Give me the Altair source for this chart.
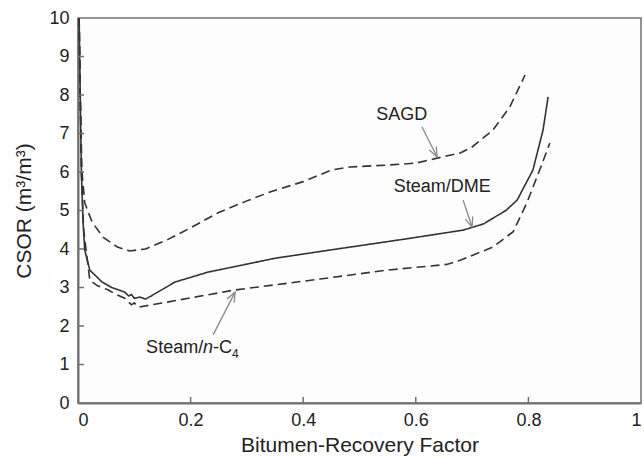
import altair as alt
import pandas as pd
import math

# ---- data ----
sagd_x = [0.002, 0.004, 0.007, 0.012, 0.025, 0.045, 0.07, 0.092, 0.12, 0.16, 0.2, 0.25, 0.3,
          0.341, 0.4, 0.45, 0.483, 0.55, 0.6, 0.638, 0.68, 0.70, 0.737, 0.767, 0.794]
sagd_y = [10.0, 8.0, 6.0, 5.2, 4.7, 4.3, 4.05, 3.95, 4.0, 4.25, 4.55, 4.95, 5.25,
          5.48, 5.75, 6.05, 6.13, 6.18, 6.23, 6.36, 6.5, 6.65, 7.09, 7.69, 8.52]

dme_x = [0.002, 0.004, 0.006, 0.009, 0.012, 0.021, 0.043, 0.06, 0.083, 0.09, 0.095, 0.10, 0.11,
         0.12, 0.13, 0.172, 0.231, 0.291, 0.35, 0.46, 0.577, 0.684, 0.72, 0.76, 0.78, 0.808,
         0.826, 0.835]
dme_y = [10.0, 8.0, 6.0, 4.7, 3.97, 3.45, 3.14, 3.0, 2.88, 2.78, 2.82, 2.72, 2.75,
         2.7, 2.78, 3.14, 3.40, 3.58, 3.76, 4.0, 4.25, 4.49, 4.65, 5.0, 5.27, 6.05,
         7.09, 7.95]

nc4_x = [0.002, 0.004, 0.006, 0.01, 0.021, 0.034, 0.053, 0.069, 0.083, 0.095, 0.1, 0.107,
         0.158, 0.276, 0.43, 0.548, 0.655, 0.679, 0.737, 0.773, 0.797, 0.82, 0.838]
nc4_y = [10.0, 8.0, 6.0, 4.5, 3.19, 3.05, 2.94, 2.81, 2.72, 2.55, 2.6, 2.49,
         2.62, 2.93, 3.22, 3.45, 3.6, 3.71, 4.05, 4.45, 5.19, 6.05, 6.75]

series_names = ["SAGD", "Steam/DME", "Steam/n-C4"]

x_ticks = [0, 0.2, 0.4, 0.6, 0.8, 1]
y_ticks = [0, 1, 2, 3, 4, 5, 6, 7, 8, 9, 10]
x_inner_ticks = [0.2, 0.4, 0.6, 0.8]
y_inner_ticks = [1, 2, 3, 4, 5, 6, 7, 8, 9]

# annotations: label position, arrow start, arrow tip
ann_labels = ["SAGD", "Steam/DME"]
ann_label_x = [0.575, 0.647]
ann_label_y = [7.48, 5.61]

arrow_x0 = [0.611, 0.684, 0.24]
arrow_y0 = [7.17, 5.27, 1.77]
arrow_x1 = [0.638, 0.70, 0.279]
arrow_y1 = [6.39, 4.57, 2.88]

nc4_label_x = [0.121]
nc4_label_y = [1.30]

# ---- tables ----
rows = []
for name, xs_, ys_ in zip(series_names, [sagd_x, dme_x, nc4_x], [sagd_y, dme_y, nc4_y]):
    for a, b in zip(xs_, ys_):
        rows.append({"series": name, "rf": a, "csor": b})
df = pd.DataFrame(rows)

W, H = 563, 385
angs = []
for a0, b0, a1, b1 in zip(arrow_x0, arrow_y0, arrow_x1, arrow_y1):
    dx = (a1 - a0) * W
    dy = -(b1 - b0) * H / 10.0
    n = math.hypot(dx, dy)
    ux, uy = dx / n, dy / n
    angs.append(math.degrees(math.atan2(-ux, uy)) % 360)
arrows = pd.DataFrame({"x0": arrow_x0, "y0": arrow_y0, "x1": arrow_x1, "y1": arrow_y1, "ang": angs})
labels = pd.DataFrame({"t": ann_labels, "x": ann_label_x, "y": ann_label_y})
nc4lab = pd.DataFrame({"x": nc4_label_x, "y": nc4_label_y})

xs = alt.Scale(domain=[0, 1], nice=False, zero=False)
ys = alt.Scale(domain=[0, 10], nice=False, zero=False)
ax_x = alt.Axis(values=x_ticks, format="~g", title="Bitumen-Recovery Factor")
ax_y = alt.Axis(values=y_ticks, format="d", title="CSOR (m³/m³)")

FONT = "Liberation Sans"
TXT = "#222222"

def X(f):
    return alt.X(f, scale=xs, axis=ax_x)

def Y(f):
    return alt.Y(f, scale=ys, axis=ax_y)

lines = alt.Chart(df).mark_line(strokeWidth=1.6, color="#333333").encode(
    x=X("rf:Q"), y=Y("csor:Q"),
    strokeDash=alt.StrokeDash("series:N", scale=alt.Scale(domain=series_names,
                              range=[[9, 5], [1, 0], [9, 5]]), legend=None),
    detail="series:N",
)

xt = alt.Chart(pd.DataFrame({"v": x_inner_ticks})).mark_rule(color="#707070", strokeWidth=1.5).encode(
    x=X("v:Q"), y=alt.value(H), y2=alt.value(H - 6))
yt = alt.Chart(pd.DataFrame({"v": y_inner_ticks})).mark_rule(color="#707070", strokeWidth=1.5).encode(
    y=Y("v:Q"), x=alt.value(0), x2=alt.value(6))

arrow_lines = alt.Chart(arrows).mark_rule(color="#888888", strokeWidth=1.3).encode(
    x=X("x0:Q"), y=Y("y0:Q"), x2="x1:Q", y2="y1:Q")
arrow_heads = alt.Chart(arrows).mark_point(
    shape="M -0.4 -1 L 0 0 L 0.4 -1", filled=False, size=380, strokeWidth=1.3, color="#888888", opacity=1
).encode(x=X("x1:Q"), y=Y("y1:Q"), angle=alt.Angle("ang:Q", scale=None))

lab = alt.Chart(labels).mark_text(font=FONT, fontSize=18, color=TXT, align="center", baseline="middle").encode(
    x=X("x:Q"), y=Y("y:Q"), text="t:N")

def piece(text, dx, dy=0, size=18, style="normal"):
    return alt.Chart(nc4lab).mark_text(font=FONT, fontSize=size, color=TXT, align="left",
                                       baseline="alphabetic", dx=dx, dy=dy, fontStyle=style,
                                       text=text).encode(x=X("x:Q"), y=Y("y:Q"))

nlab = [piece("Steam/", 0), piece("n", 57, style="italic"), piece("-C", 67), piece("4", 86, dy=5, size=12)]

chart = alt.layer(lines, xt, yt, arrow_lines, arrow_heads, lab, *nlab).properties(
    width=W, height=H,
    autosize=alt.AutoSizeParams(type="none"),
    padding={"left": 78, "top": 18, "right": 3, "bottom": 56},
    background="white",
).configure_view(
    stroke="#707070", strokeWidth=1.5, fill="#fdfdfd"
).configure_axis(
    domainColor="#707070", domainWidth=2, ticks=False, grid=False,
    labelFont=FONT, labelFontSize=18, labelColor=TXT,
    titleFont=FONT, titleFontSize=21, titleColor=TXT, titleFontWeight="normal",
).configure_axisX(labelPadding=8, titlePadding=5).configure_axisY(labelPadding=9, titlePadding=14)

chart.save("out.html", embed_options={"renderer": "svg", "actions": False})
